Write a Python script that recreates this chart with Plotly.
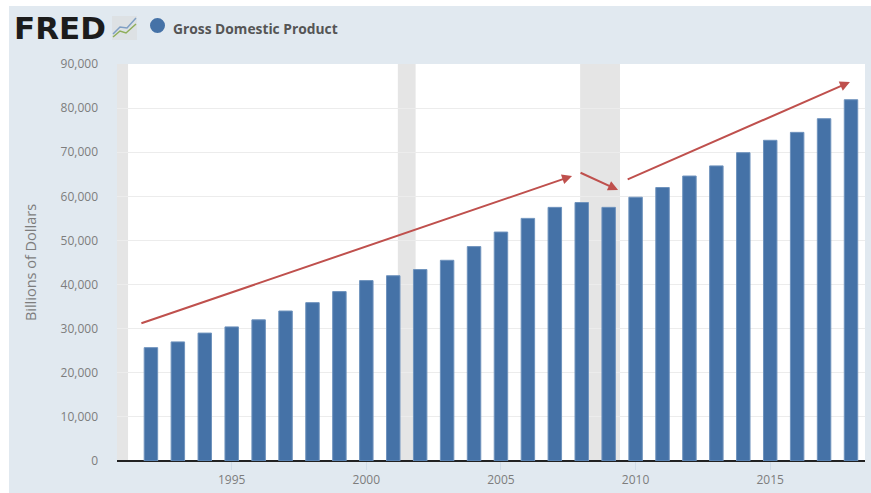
import plotly.graph_objects as go

years = list(range(1992, 2019))
gdp = [25700, 27000, 29000, 30400, 32000, 34000, 35900, 38400, 40900, 42000,
       43400, 45500, 48600, 51900, 55000, 57500, 58600, 57500, 59800, 62000,
       64600, 66900, 69900, 72700, 74500, 77600, 81900]
series_name = "Gross Domestic Product"
recessions = [(1990.6, 1991.15), (2001.17, 2001.83), (2007.94, 2009.42)]
# arrows as (start year, start value, end year, end value)
arrows = [(1991.59, 31100, 2007.64, 64600),
          (2007.9, 65500, 2009.35, 61450),
          (2009.65, 63700, 2017.96, 85900)]
y_ticks = list(range(0, 90001, 10000))
x_ticks = [1995, 2000, 2005, 2010, 2015]

W, H = 871, 493
L, R, T, B = 117, 6, 64, 32
def px(x): return (x - L) / (W - L - R)
def py(y): return 1 - (y - T) / (H - T - B)

PANEL = "#e1e9f0"
BAR = "#4572a7"
TXT = "#7d7d7d"

fig = go.Figure()
fig.add_bar(x=years, y=gdp, width=0.5, marker=dict(color=BAR, line=dict(color="#6f93bd", width=1)),
            showlegend=False)

shapes = [
    dict(type="rect", xref="paper", yref="paper", x0=px(9), x1=px(W), y0=py(6), y1=py(H),
         fillcolor=PANEL, line_width=0, layer="below"),
    dict(type="rect", xref="paper", yref="paper", x0=0, x1=1, y0=0, y1=1,
         fillcolor="white", line_width=0, layer="below"),
]
for a, b in recessions:
    shapes.append(dict(type="rect", xref="x", yref="paper", x0=a, x1=b, y0=0, y1=1,
                       fillcolor="#e5e5e5", line_width=0, layer="below"))
# small FRED logo icon
shapes += [
    dict(type="rect", xref="paper", yref="paper", x0=px(112), x1=px(137), y0=py(40), y1=py(16),
         fillcolor="#dde1e4", line_width=0),
    dict(type="path", xref="paper", yref="paper",
         path=f"M {px(113)} {py(37)} L {px(120)} {py(31)} L {px(126)} {py(33)} L {px(136)} {py(24)}",
         line=dict(color="#8fae5a", width=1.5)),
    dict(type="path", xref="paper", yref="paper",
         path=f"M {px(113)} {py(34)} L {px(120)} {py(27)} L {px(127)} {py(28)} L {px(136)} {py(18)}",
         line=dict(color="#7f9fc4", width=1.5)),
    dict(type="circle", xref="paper", yref="paper", x0=px(150), x1=px(165), y0=py(33), y1=py(18),
         fillcolor=BAR, line_width=0),
]

annotations = [
    dict(text="<b>FRED</b>", xref="paper", yref="paper", x=px(12), y=py(28.5), xanchor="left", yanchor="middle",
         showarrow=False, font=dict(family="DejaVu Sans", size=31, color="#1c1c1c")),
    dict(text="<b>" + series_name + "</b>", xref="paper", yref="paper", x=px(171), y=py(28), xanchor="left",
         yanchor="middle", showarrow=False, font=dict(family="Open Sans", size=13.8, color="#555555")),
]
for x0, y0, x1, y1 in arrows:
    annotations.append(dict(x=x1, y=y1, ax=x0, ay=y0, xref="x", yref="y", axref="x", ayref="y", text="",
                            showarrow=True, arrowhead=2, arrowsize=1.0, arrowwidth=2, arrowcolor="#bf504d"))

fig.update_layout(
    width=W, height=H, margin=dict(l=L, r=R, t=T, b=B),
    paper_bgcolor="white", plot_bgcolor="rgba(0,0,0,0)",
    shapes=shapes, annotations=annotations, showlegend=False,
    font=dict(family="Open Sans", color=TXT, size=12),
    xaxis=dict(range=[1990.74, 2018.52], tickvals=x_ticks, showgrid=False, ticks="outside", ticklen=8,
               tickcolor="#d0dce8", tickwidth=1, zeroline=False, showline=False),
    yaxis=dict(range=[0, 90000], tickvals=y_ticks, tickformat=",d", gridcolor="#ececec", gridwidth=1,
               zeroline=True, zerolinecolor="#222222", zerolinewidth=2, showline=False,
               ticks="", ticklabelstandoff=18,
               title=dict(text="Billions of Dollars", font=dict(size=14.5, color=TXT), standoff=20)),
    bargap=0.5,
)
fig.write_html("out.html", config=dict(displayModeBar=False),
               post_script="document.body.style.margin='0';document.documentElement.style.overflow='hidden';")
